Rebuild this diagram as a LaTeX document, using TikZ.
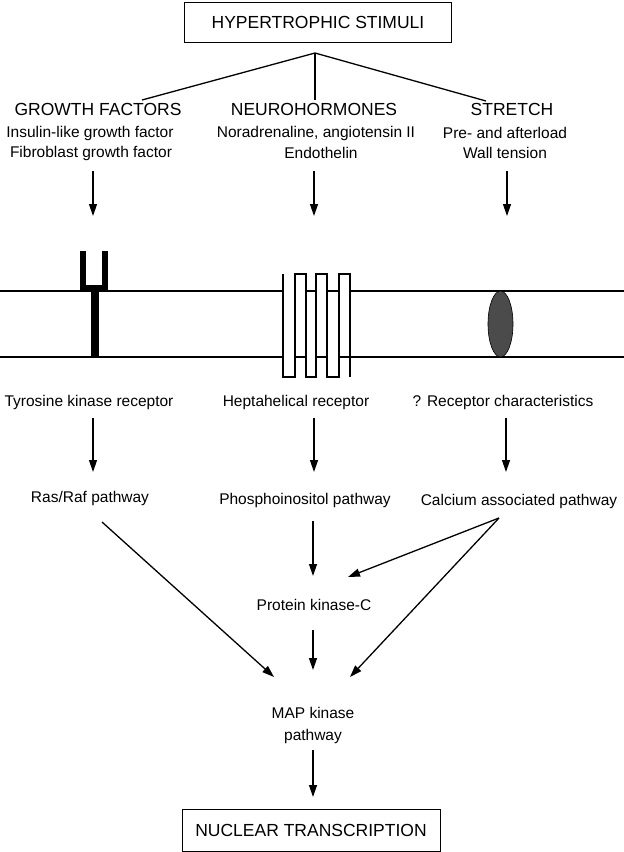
\documentclass[tikz,border=0pt]{standalone}
\usepackage{fontspec}
\setmainfont{Liberation Sans}
\usetikzlibrary{arrows.meta}
\begin{document}
\begin{tikzpicture}[x=1pt,y=-1pt,
  txt/.style={inner sep=0pt,font=\fontsize{15.5}{19}\selectfont},
  head/.style={inner sep=0pt,font=\fontsize{17.5}{20}\selectfont},
  bx/.style={draw,line width=1pt,inner sep=0pt,font=\fontsize{17.5}{20}\selectfont},
  ln/.style={line width=1.3pt},
  arr/.style={line width=1.3pt,-{Triangle[length=12pt,width=8pt]}},
  helix/.style={line width=2pt,line join=miter}]
\useasboundingbox (0,0) rectangle (624,852);
% top box
\node[bx,minimum width=267pt,minimum height=40pt] (top) at (318,22) {HYPERTROPHIC STIMULI};
\coordinate (apex) at (315,53);
\coordinate (bL) at (142,100);
\coordinate (bM) at (315,100);
\coordinate (bR) at (486,101);
\draw[ln] (bL) -- (apex) -- (bR);
\draw[ln] (apex) -- (bM);
% headings
\node[head] (gf) at (98,109) {GROWTH FACTORS};
\node[head] (nh) at (314,109) {NEUROHORMONES};
\node[head] (st) at (512,109) {STRETCH};
\node[txt] (gf1) at (90,133) {Insulin-like growth factor};
\node[txt] (gf2) at (91,153) {Fibroblast growth factor};
\node[txt] (nh1) at (316,133) {Noradrenaline, angiotensin II};
\node[txt] (nh2) at (321,153) {Endothelin};
\node[txt] (st1) at (505,133) {Pre- and afterload};
\node[txt] (st2) at (505,153) {Wall tension};
\coordinate (a1s) at (93,171); \coordinate (a1e) at (93,216);
\coordinate (a2s) at (314,171); \coordinate (a2e) at (314,216);
\coordinate (a3s) at (507,171); \coordinate (a3e) at (507,216);
\draw[arr] (a1s) -- (a1e);
\draw[arr] (a2s) -- (a2e);
\draw[arr] (a3s) -- (a3e);
% membrane
\coordinate (m1l) at (0,291); \coordinate (m1r) at (624,291);
\coordinate (m2l) at (0,357); \coordinate (m2r) at (624,357);
\draw[ln] (m1l) -- (283,291);
\draw[ln] (306,291) -- (316,291);
\draw[ln] (327,291) -- (339,291);
\draw[ln] (350,291) -- (m1r);
\draw[ln] (m2l) -- (283,357);
\draw[ln] (295,357) -- (306,357);
\draw[ln] (316,357) -- (327,357);
\draw[ln] (339,357) -- (350,357);
\draw[ln] (350,357) -- (m2r);
% tyrosine kinase receptor
\fill (80,251) rectangle (86,292);
\fill (102,251) rectangle (108,292);
\fill (80,285) rectangle (108,292);
\fill (91,290) rectangle (99,358);
% heptahelical receptor
\draw[helix] (283,274) -- (283,377) -- (295,377) -- (295,274) -- (306,274) -- (306,377)
  -- (316,377) -- (316,274) -- (327,274) -- (327,377) -- (339,377) -- (339,274)
  -- (350,274) -- (350,377);
% stretch receptor
\fill[fill={rgb,255:red,75;green,75;blue,75},draw=black,line width=0.6pt] (500.5,324) ellipse [x radius=12.5, y radius=33];
% receptor labels
\node[txt] (tk) at (89,402) {Tyrosine kinase receptor};
\node[txt] (hr) at (296,402) {Heptahelical receptor};
\node[txt] (rc) at (503,402) {? Receptor characteristics};
\coordinate (b1s) at (93,418); \coordinate (b1e) at (93,472);
\coordinate (b2s) at (314,418); \coordinate (b2e) at (314,472);
\coordinate (b3s) at (506,418); \coordinate (b3e) at (506,472);
\draw[arr] (b1s) -- (b1e);
\draw[arr] (b2s) -- (b2e);
\draw[arr] (b3s) -- (b3e);
% pathways
\node[txt] (ras) at (90,498) {Ras/Raf pathway};
\node[txt] (pho) at (305,500) {Phosphoinositol pathway};
\node[txt] (cal) at (519,501) {Calcium associated pathway};
\node[txt] (pkc) at (314,605) {Protein kinase-C};
\node[txt,align=center,font=\fontsize{15.5}{22}\selectfont] (map) at (313,725) {MAP kinase\\pathway};
\node[bx,minimum width=258pt,minimum height=42pt] (nuc) at (311,830) {NUCLEAR TRANSCRIPTION};
\coordinate (c1s) at (313,521); \coordinate (c1e) at (313,576);
\coordinate (capex) at (499,518);
\coordinate (c2e) at (348,577);
\coordinate (c3e) at (350,677);
\coordinate (rs) at (102,522); \coordinate (re) at (274,677);
\coordinate (d1s) at (313,630); \coordinate (d1e) at (313,670);
\coordinate (e1s) at (313,750); \coordinate (e1e) at (313,797);
\draw[arr] (c1s) -- (c1e);
\draw[arr] (capex) -- (c2e);
\draw[arr] (capex) -- (c3e);
\draw[arr] (rs) -- (re);
\draw[arr] (d1s) -- (d1e);
\draw[arr] (e1s) -- (e1e);
\end{tikzpicture}
\end{document}
